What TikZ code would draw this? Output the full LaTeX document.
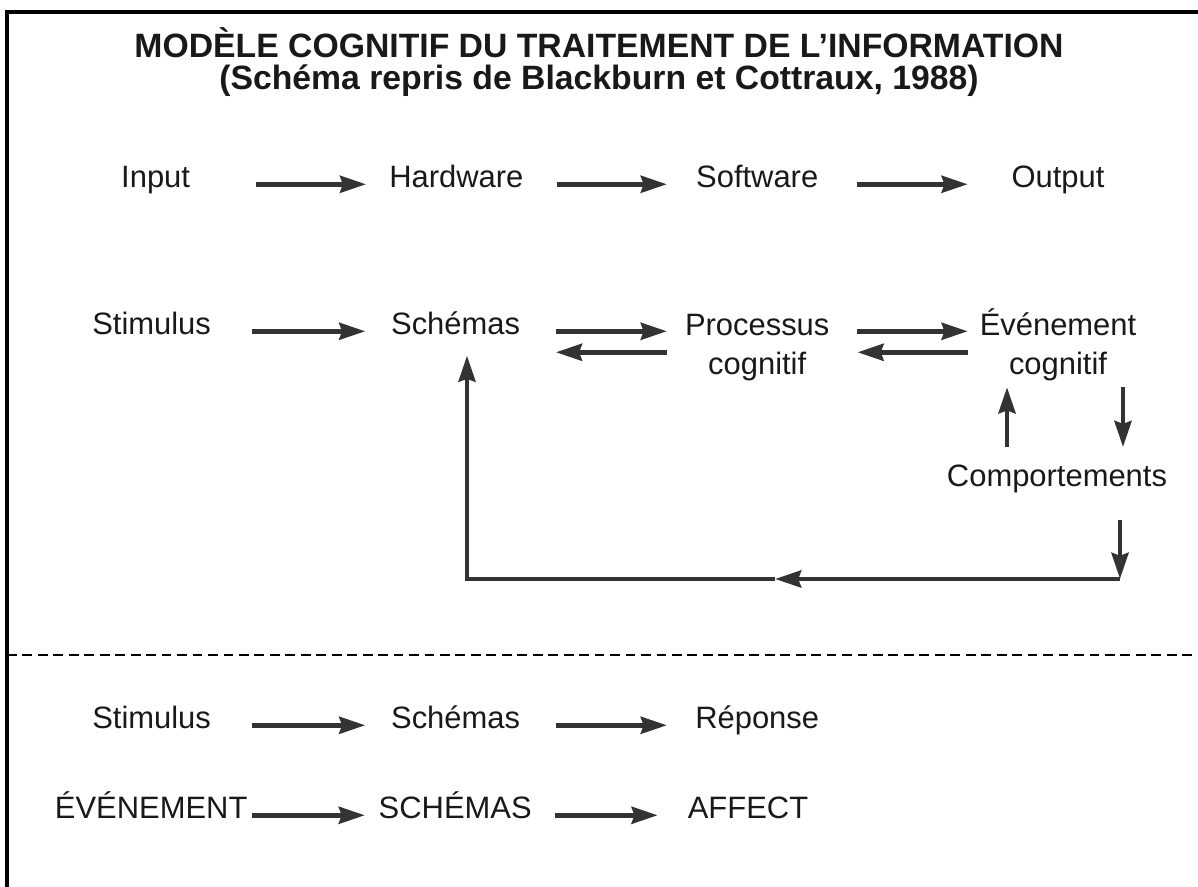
\documentclass[tikz,border=0pt]{standalone}
\usepackage{fontspec}
\setmainfont{Liberation Sans}
\usetikzlibrary{arrows.meta}

\begin{document}
\begin{tikzpicture}[>={Stealth[length=0.65cm, width=0.42cm, inset=0.07cm]},
  every node/.style={font=\fontsize{22}{28}\selectfont, text=black!90, inner sep=0pt}]
\tikzstyle{lbl}=[anchor=base, minimum width=4.5cm, align=center]
\tikzstyle{flow}=[->, line width=3.5pt, draw=black!80, shorten <=0.25cm]

\useasboundingbox (0,0) rectangle (29.95,22.175);

% Frame and separator
\draw[line width=2.6pt] (0.175,0) -- (0.175,21.875) -- (29.95,21.875);
\draw[line width=1.6pt, dash pattern=on 7pt off 4pt] (0.175,5.8) -- (29.95,5.8);

% Title (base = last line)
\node[anchor=base, align=center, font=\fontsize{24}{23}\selectfont\bfseries] (title) at (14.975,19.94)
  {MODÈLE COGNITIF DU TRAITEMENT DE L’INFORMATION\\(Schéma repris de Blackburn et Cottraux, 1988)};

% Row 1
\node[lbl] (inp) at (3.89,17.475) {Input};
\node[lbl] (hw) at (11.41,17.475) {Hardware};
\node[lbl] (sw) at (18.93,17.475) {Software};
\node[lbl] (out) at (26.45,17.475) {Output};

\draw[flow] (inp.mid east) -- (hw.mid west);
\draw[flow] (hw.mid east) -- (sw.mid west);
\draw[flow] (sw.mid east) -- (out.mid west);

% Row 2 (two-line nodes sit on their second line)
\node[lbl] (stim) at (3.79,13.8) {Stimulus};
\node[lbl] (sch) at (11.39,13.8) {Schémas};
\node[lbl] (proc) at (18.93,12.812) {Processus\\cognitif};
\node[lbl] (evt) at (26.45,12.812) {Événement\\cognitif};
\node[lbl] (comp) at (26.425,10.0) {Comportements};
\coordinate (low) at ([yshift=-0.525cm]sch.mid);

\draw[flow] (stim.mid east) -- (sch.mid west);
\draw[flow] (sch.mid east) -- (proc.west |- sch.mid);
\draw[flow, shorten <=0pt, shorten >=0.25cm] (proc.west |- low) -- (sch.east |- low);
\draw[flow] (proc.east |- sch.mid) -- (evt.west |- sch.mid);
\draw[flow, shorten <=0pt, shorten >=0.25cm] (evt.west |- low) -- (proc.east |- low);

\draw[flow, shorten <=0.45cm, shorten >=0.15cm] ([xshift=-1.25cm]comp.north) -- ([xshift=-1.25cm]comp.north |- evt.south);
\draw[flow, shorten <=0.15cm, shorten >=0.45cm] ([xshift=1.65cm]comp.north |- evt.south) -- ([xshift=1.65cm]comp.north);

% Feedback loop
\coordinate (fbR) at (28.0,7.7);
\coordinate (fbM) at (19.375,7.7);
\coordinate (fbL) at (11.675,7.7);
\draw[flow, shorten <=0.66cm] (comp.south -| fbR) -- (fbR);
\draw[flow, shorten <=0pt] (fbR) -- (fbM);
\draw[flow, shorten <=0pt, shorten >=0.5cm] (fbM) -- (fbL) -- (fbL |- sch.south);

% Row 3
\node[lbl] (stim3) at (3.79,3.95) {Stimulus};
\node[lbl] (sch3) at (11.39,3.95) {Schémas};
\node[lbl] (rep) at (18.93,3.95) {Réponse};

\draw[flow] (stim3.mid east) -- (sch3.mid west);
\draw[flow] (sch3.mid east) -- (rep.mid west);

% Row 4
\node[lbl] (evt4) at (3.78,1.7) {ÉVÉNEMENT};
\node[lbl] (sch4) at (11.38,1.7) {SCHÉMAS};
\node[lbl] (aff) at (18.7,1.7) {AFFECT};

\draw[flow, shorten <=0.1cm] (evt4.mid east) -- (sch4.mid west);
\draw[flow] (sch4.mid east) -- (aff.mid west);
\end{tikzpicture}
\end{document}
